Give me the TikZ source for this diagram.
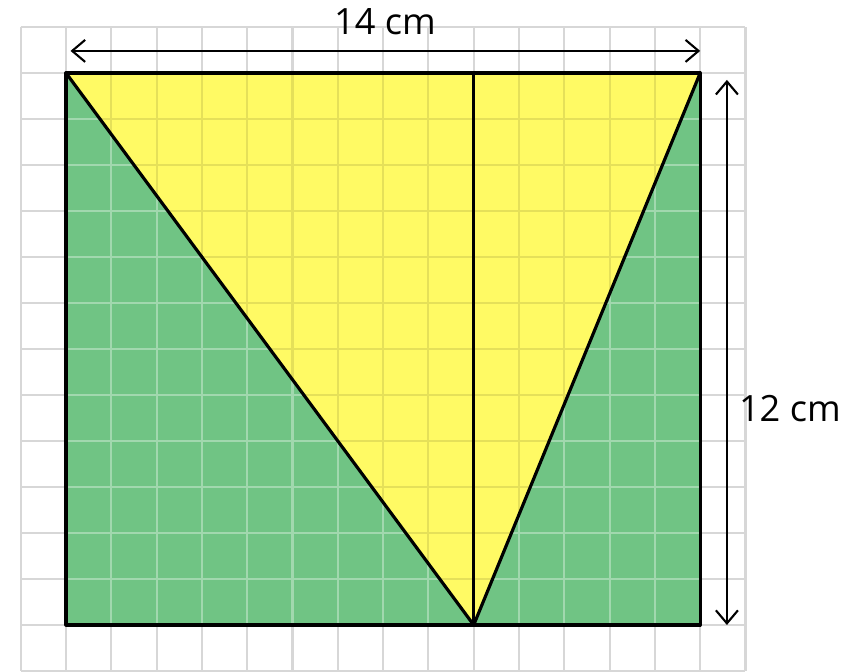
\documentclass[tikz,border=0pt]{standalone}
\usepackage{fontspec}
\setmainfont{Open Sans}
\usetikzlibrary{arrows.meta}
\definecolor{tyellow}{RGB}{255,250,100}
\definecolor{tgreen}{RGB}{112,196,132}
\definecolor{tgrid}{RGB}{215,215,215}
\tikzset{
  gridline/.style={draw=tgrid, line width=0.6pt},
  gridgreen/.style={draw=white, opacity=0.35, line width=0.6pt},
  gridyellow/.style={draw=black, opacity=0.10, line width=0.6pt},
  outline/.style={draw=black, line width=0.9pt, line join=round},
  dim/.style={draw=black, line width=0.6pt, {Straight Barb[length=1.3mm,width=2.2mm,line width=0.6pt]}-{Straight Barb[length=1.3mm,width=2.2mm,line width=0.6pt]}},
  lbl/.style={font=\fontsize{10.3}{12}\selectfont, inner sep=0pt}
}
\begin{document}
\begin{tikzpicture}[x=0.453cm, y=0.46cm]
\useasboundingbox (-1.457,-1.022) rectangle (17.307,13.587);
\coordinate (A) at (0,0);
\coordinate (B) at (14,0);
\coordinate (C) at (14,12);
\coordinate (D) at (0,12);
\coordinate (E) at (9,0);
\coordinate (F) at (9,12);
% background grid
\draw[gridline, step={(1,1)}] (-1,-1) grid (15,13);
% fills
\fill[tgreen] (A) rectangle (C);
\fill[tyellow] (D) -- (C) -- (E) -- cycle;
% grid over fills
\begin{scope}
  \clip (A) -- (E) -- (D) -- cycle;
  \draw[gridgreen, step={(1,1)}] (-1,-1) grid (15,13);
\end{scope}
\begin{scope}
  \clip (E) -- (B) -- (C) -- cycle;
  \draw[gridgreen, step={(1,1)}] (-1,-1) grid (15,13);
\end{scope}
\begin{scope}
  \clip (D) -- (C) -- (E) -- cycle;
  \draw[gridyellow, step={(1,1)}] (-1,-1) grid (15,13);
\end{scope}
% outlines
\draw[outline] (A) rectangle (C);
\draw[outline] (D) -- (E) -- (C);
\draw[outline] (E) -- (F);
% dimensions
\coordinate (t1) at (0.1,12.48);
\coordinate (t2) at (14,12.48);
\draw[dim] (t1) -- (t2);
\coordinate (r1) at (14.59,0.0);
\coordinate (r2) at (14.59,11.85);
\draw[dim] (r2) -- (r1);
\node[lbl] (w) at (7.04,13.12) {14 cm};
\node[lbl] (h) at (15.98,4.7) {12 cm};
\end{tikzpicture}
\end{document}
